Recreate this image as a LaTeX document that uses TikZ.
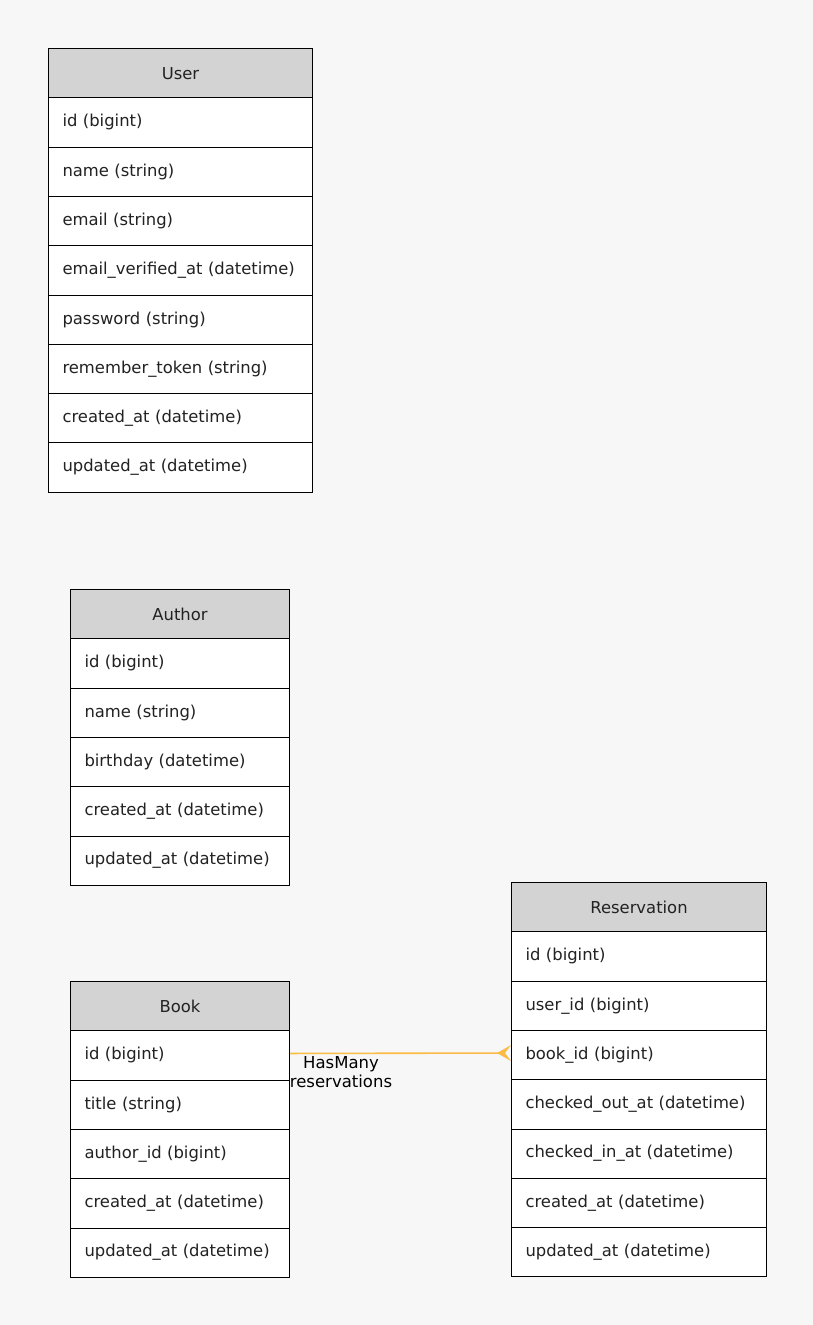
\documentclass[tikz,border=0pt]{standalone}
\usepackage{fontspec}
\setmainfont{DejaVu Sans}
\usetikzlibrary{calc}
\definecolor{bgc}{HTML}{F7F7F7}
\definecolor{hdrc}{HTML}{D3D3D3}
\definecolor{txtc}{HTML}{222222}
\definecolor{edgec}{HTML}{FBBC45}
\tikzset{
  x=1pt, y=-1pt,
  tbl/.style={draw=black, line width=1pt, rectangle, inner sep=0pt, minimum height=49.3pt,
    text=txtc, font=\fontsize{16.4}{19}\selectfont, anchor=north west},
  hdr/.style={tbl, fill=hdrc, align=center},
  fieldrow/.style={tbl, fill=white, align=left, inner xsep=14pt},
  rel/.style={draw=edgec, line width=1.6pt},
  rellabel/.style={font=\fontsize{16.5}{19}\selectfont, text=black, align=center, inner sep=0pt}
}
\newcommand{\erdtab}[6]{%
  \node[hdr, minimum width=#4, text width=#4] (#1-h) at (#2,#3) {#5};
  \foreach \r [count=\i] in {#6} {
    \node[fieldrow, minimum width=#4, text width=#4-28] (#1-\i) at (#2,{#3+49.3*\i}) {\r};
  }%
}
\begin{document}
\begin{tikzpicture}
\useasboundingbox[fill=bgc] (0,0) rectangle (813,1325);
\erdtab{user}{48}{48}{264pt}{User}{id (bigint),name (string),email (string),email\_verified\_at (datetime),password (string),remember\_token (string),created\_at (datetime),updated\_at (datetime)}
\erdtab{author}{70}{589}{219pt}{Author}{id (bigint),name (string),birthday (datetime),created\_at (datetime),updated\_at (datetime)}
\erdtab{book}{70}{981}{219pt}{Book}{id (bigint),title (string),author\_id (bigint),created\_at (datetime),updated\_at (datetime)}
\erdtab{res}{511}{882}{255pt}{Reservation}{id (bigint),user\_id (bigint),book\_id (bigint),checked\_out\_at (datetime),checked\_in\_at (datetime),created\_at (datetime),updated\_at (datetime)}
\draw[rel] ([yshift=2pt]book-1.east) -- ([xshift=-12pt,yshift=2pt]res-3.west);
\fill[edgec] ([yshift=2pt]res-3.west) ++(0,-8) -- ++(-14,8) -- ++(14,8) -- ++(-6,-8) -- cycle;
\node[rellabel] (lbl) at (341,1072) {HasMany\\reservations};
\end{tikzpicture}
\end{document}
